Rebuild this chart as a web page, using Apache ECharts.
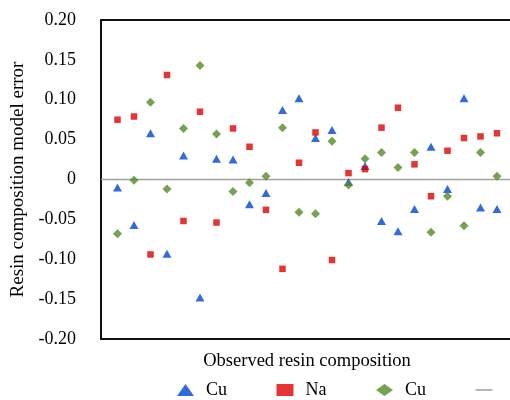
<!DOCTYPE html>
<html>
<head>
<meta charset="utf-8">
<script src="https://cdn.jsdelivr.net/npm/echarts@6/dist/echarts.min.js"></script>
<style>html,body{margin:0;padding:0;background:#fff;}#c{width:510px;height:400px;}</style>
</head>
<body>
<div id="c"></div>
<script>
var samples = [1,2,3,4,5,6,7,8,9,10,11,12,13,14,15,16,17,18,19,20,21,22,23,24];
var cuA = [-0.010,-0.057,0.058,-0.093,0.030,-0.148,0.026,0.025,-0.031,-0.017,0.087,0.102,0.052,0.062,-0.003,0.017,-0.052,-0.065,-0.037,0.041,-0.012,0.102,-0.035,-0.037];
var na  = [0.075,0.079,-0.094,0.131,-0.052,0.085,-0.054,0.064,0.041,-0.038,-0.112,0.021,0.059,-0.101,0.008,0.013,0.065,0.090,0.019,-0.021,0.036,0.052,0.054,0.058];
var cuB = [-0.068,-0.001,0.097,-0.012,0.064,0.143,0.057,-0.015,-0.004,0.004,0.065,-0.041,-0.043,0.048,-0.007,0.026,0.034,0.015,0.034,-0.066,-0.021,-0.058,0.034,0.004];
var zeroLine = [[0,0],[26,0]];
var yTicks = {min:-0.20, max:0.20, step:0.05};

function pairs(v){ return samples.map(function(x,i){ return [x, v[i]]; }); }
var FONT = 'Liberation Serif';
var frame = {color:'#111', width:2};
var chart = echarts.init(document.getElementById('c'), null, {renderer:'canvas'});
chart.setOption({
  animation:false,
  backgroundColor:'#fff',
  textStyle:{fontFamily:FONT, color:'#000'},
  grid:{left:101, top:20, width:429, height:319, show:false, outerBoundsMode:'none'},
  xAxis:[
    {type:'value', position:'bottom', min:0, max:26, axisLine:{show:true, onZero:false, lineStyle:frame}, axisTick:{show:false}, axisLabel:{show:false}, splitLine:{show:false},
      name:'Observed resin composition', nameLocation:'middle', nameGap:13,
      nameTextStyle:{fontFamily:FONT, fontSize:18.5, color:'#000', padding:[0,17,0,0], verticalAlign:'top'}},
    {type:'value', position:'top', min:0, max:26, axisLine:{show:true, onZero:false, lineStyle:frame}, axisTick:{show:false}, axisLabel:{show:false}, splitLine:{show:false}}
  ],
  yAxis:{type:'value', min:yTicks.min, max:yTicks.max, interval:yTicks.step,
    axisLine:{show:true, lineStyle:frame}, axisTick:{show:false}, splitLine:{show:false},
    axisLabel:{fontFamily:FONT, fontSize:18, color:'#000', margin:25, formatter:function(v){ return Math.abs(v)<1e-9 ? '0' : v.toFixed(2); }},
    name:'Resin composition model error', nameLocation:'middle', nameGap:70,
    nameTextStyle:{fontFamily:FONT, fontSize:19, color:'#000'}},
  legend:{left:177, top:381, width:330, padding:0, itemWidth:17, itemHeight:12, itemGap:49.5,
    textStyle:{fontFamily:FONT, fontSize:18, color:'#000', padding:[0,0,0,7]},
    data:['Cu','Na','Cu\u200b',{name:'\u200b\u200b', icon:'path://M0,0L34,0L34,3L0,3Z', itemStyle:{color:'#a0a0a0'}}]},
  series:[
    {name:'\u200b\u200b', type:'line', data:zeroLine, symbol:'none', silent:true, z:1,
      lineStyle:{color:'#a0a0a0', width:1.5}, itemStyle:{color:'#a0a0a0'}},
    {name:'Cu', type:'scatter', data:pairs(cuA), symbol:'triangle', symbolSize:[9,8], itemStyle:{color:'#0046d5'}, z:3},
    {name:'Na', type:'scatter', data:pairs(na), symbol:'rect', symbolSize:6.5, itemStyle:{color:'#e00000'}, z:3},
    {name:'Cu\u200b', type:'scatter', data:pairs(cuB), symbol:'diamond', symbolSize:9, itemStyle:{color:'#538c27'}, z:3}
  ]
});
</script>
</body>
</html>
